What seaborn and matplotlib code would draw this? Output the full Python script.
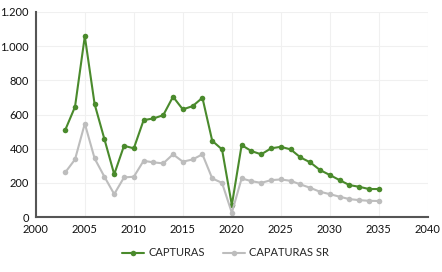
import pandas as pd
import matplotlib.pyplot as plt
import seaborn as sns
from matplotlib.ticker import FuncFormatter

# === DATA ===
years = list(range(2003, 2036))
capturas = [509, 645, 1058, 661, 456, 250, 417, 402, 567, 577, 596, 704, 630, 649, 698,
            446, 396, 70, 421, 386, 367, 402, 411, 396, 349, 320, 275, 246, 216, 187, 177, 164, 164]
capturas_sr = [261, 337, 547, 343, 236, 134, 232, 236, 329, 320, 314, 367, 324, 337, 367,
               226, 200, 25, 226, 210, 200, 216, 220, 212, 191, 171, 148, 134, 119, 105, 99, 95, 94]
series_names = ['CAPTURAS', 'CAPATURAS SR']

df = pd.concat([
    pd.DataFrame({'Year': years, 'Value': capturas, 'Serie': series_names[0]}),
    pd.DataFrame({'Year': years, 'Value': capturas_sr, 'Serie': series_names[1]}),
], ignore_index=True)

# === STYLE ===
sns.set_style('white')
plt.rcParams['font.family'] = ['Lato', 'DejaVu Sans']

fig = plt.figure(figsize=(4.42, 2.72), dpi=100)
ax = fig.add_axes([0.081, 0.202, 0.887, 0.754])

sns.lineplot(data=df, x='Year', y='Value', hue='Serie',
             palette={series_names[0]: '#4a8a2c', series_names[1]: '#bdbdbd'},
             marker='o', markersize=4, markeredgewidth=0, linewidth=1.5, ax=ax)

ax.set_xlim(2000, 2040)
ax.set_ylim(0, 1200)
ax.set_xticks(range(2000, 2041, 5))
ax.set_yticks(range(0, 1201, 200))
ax.yaxis.set_major_formatter(FuncFormatter(lambda v, p: f'{int(v):,}'.replace(',', '.')))
ax.grid(True, color='#f0f0f0', linewidth=0.8)
ax.set_xlabel('')
ax.set_ylabel('')

for s in ['top', 'right']:
    ax.spines[s].set_visible(False)
for s in ['left', 'bottom']:
    ax.spines[s].set_color('#555555')
    ax.spines[s].set_linewidth(1.5)
ax.tick_params(axis='both', direction='out', length=3, width=1, color='#555555',
               labelsize=8, labelcolor='#111111', pad=2)

ax.legend(loc='center', bbox_to_anchor=(0.51, 0.07), bbox_transform=fig.transFigure,
          ncol=2, frameon=False, fontsize=8, handlelength=2.0, handletextpad=0.4,
          columnspacing=1.6)

fig.savefig('out.png', dpi=100)
